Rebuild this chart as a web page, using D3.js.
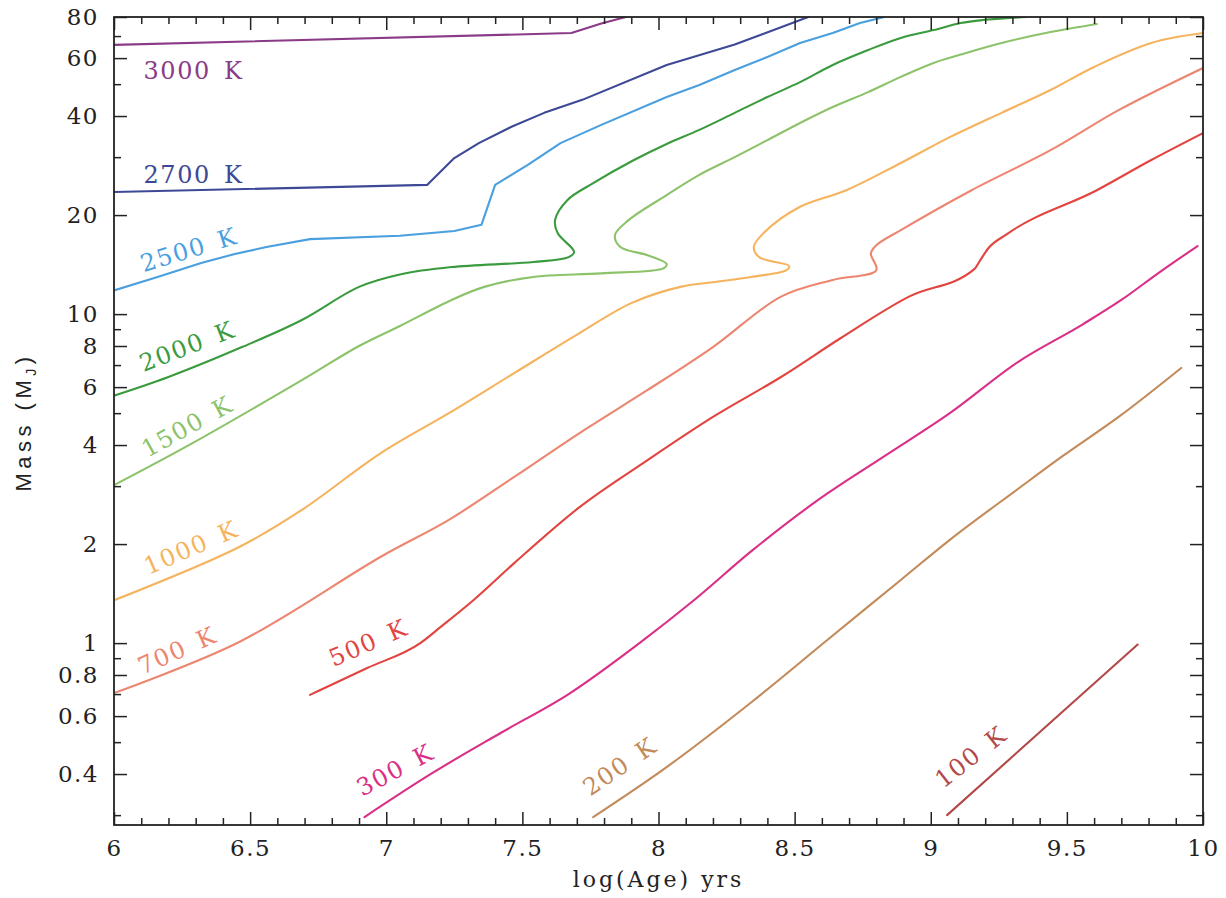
<!DOCTYPE html>
<html>
<head>
<meta charset="utf-8">
<script src="https://cdn.jsdelivr.net/npm/d3@7/dist/d3.min.js"></script>
<style>
  html, body { margin: 0; padding: 0; background: #fff; }
  svg { display: block; }
</style>
</head>
<body>
<svg id="chart" width="1226" height="898"></svg>
<script>
// ---------------- DATA (log age [yr], mass [M_J]) ----------------
const s3000 = [[6.0,65.8],[7.68,71.5],[7.79,76.5],[7.88,80]];
const s2700 = [[6.0,23.5],[7.15,24.7],[7.25,29.8],[7.34,33.1],[7.46,37.1],[7.58,40.9],[7.72,44.8],[8.03,57.2],[8.28,66.0],[8.45,74.5],[8.55,80]];
const s2500 = [[6.0,11.8],[6.16,12.97],[6.32,14.3],[6.44,15.2],[6.56,16.0],[6.72,16.9],[7.05,17.3],[7.25,17.9],[7.35,18.7],[7.40,24.7],[7.52,28.4],[7.64,33.1],[7.79,37.6],[8.03,45.7],[8.15,49.7],[8.28,55.2],[8.40,60.5],[8.52,66.7],[8.64,71.5],[8.74,76.7],[8.83,80]];
const s2000 = [[6.0,5.65],[6.2,6.44],[6.47,7.94],[6.69,9.6],[6.9,12.1],[7.05,13.2],[7.24,13.9],[7.54,14.4],[7.67,14.9],[7.69,15.45],[7.63,17.6],[7.62,19.3],[7.665,22.2],[7.76,25.0],[7.91,29.4],[8.03,32.9],[8.15,36.3],[8.28,40.9],[8.40,45.7],[8.52,50.7],[8.64,57.2],[8.77,63.5],[8.89,69.1],[9.01,73.0],[9.11,76.7],[9.19,78.3],[9.35,80]];
const s1500 = [[6.0,3.02],[6.29,4.06],[6.69,6.3],[6.9,8.0],[7.05,9.2],[7.24,11.04],[7.36,12.1],[7.54,12.97],[7.79,13.3],[8.02,13.8],[8.03,14.2],[7.96,15.1],[7.86,16.0],[7.84,17.4],[7.89,19.3],[8.03,23.0],[8.15,26.5],[8.28,30.0],[8.40,33.8],[8.52,38.1],[8.64,42.6],[8.77,47.3],[8.89,52.6],[9.01,58.0],[9.11,61.5],[9.26,66.7],[9.44,72.0],[9.61,76.2]];
const s1000 = [[6.0,1.35],[6.46,1.96],[6.69,2.54],[6.98,3.78],[7.23,5.0],[7.47,6.62],[7.71,8.76],[7.90,10.8],[8.08,12.1],[8.20,12.5],[8.34,12.97],[8.47,13.6],[8.48,14.0],[8.37,14.9],[8.35,16.0],[8.385,17.6],[8.52,21.2],[8.69,23.8],[8.89,28.8],[9.07,34.5],[9.26,40.9],[9.44,48.0],[9.60,56.4],[9.81,66.7],[10.0,71.5]];
const s700  = [[6.0,0.705],[6.46,1.008],[6.98,1.83],[7.23,2.37],[7.47,3.20],[7.71,4.35],[7.96,5.88],[8.20,7.94],[8.45,11.3],[8.64,12.7],[8.80,13.6],[8.78,15.3],[8.80,16.2],[8.89,18.0],[9.15,23.8],[9.44,31.5],[9.69,41.7],[10.0,56.0]];
const s500  = [[6.72,0.696],[6.93,0.84],[7.125,1.0],[7.2,1.12],[7.32,1.35],[7.47,1.75],[7.71,2.59],[7.96,3.60],[8.20,4.87],[8.45,6.44],[8.67,8.46],[8.92,11.3],[9.16,13.7],[9.18,14.5],[9.21,15.8],[9.28,17.5],[9.61,23.8],[9.81,29.4],[10.0,35.5]];
const s300  = [[6.92,0.296],[7.17,0.403],[7.42,0.533],[7.67,0.70],[7.93,1.0],[8.13,1.35],[8.34,1.90],[8.58,2.70],[8.83,3.70],[9.07,5.0],[9.32,7.15],[9.56,9.33],[9.70,11.04],[9.84,13.4],[9.98,16.1]];
const s200  = [[7.76,0.296],[8.03,0.42],[8.34,0.66],[8.62,1.022],[8.89,1.556],[9.07,2.06],[9.32,2.94],[9.48,3.68],[9.69,4.87],[9.92,6.86]];
const s100  = [[9.06,0.30],[9.76,0.99]];

const seriesNames = ["3000 K","2700 K","2500 K","2000 K","1500 K","1000 K","700 K","500 K","300 K","200 K","100 K"];
const seriesData  = [s3000, s2700, s2500, s2000, s1500, s1000, s700, s500, s300, s200, s100];

// label anchor (log age, mass) and rotation
const labelAge   = [6.108, 6.108, 6.108, 6.108, 6.123, 6.127, 6.105, 6.806, 6.912, 7.749, 9.046];
const labelMass  = [51.8, 25.0, 13.4, 6.67, 3.65, 1.61, 0.80, 0.846, 0.341, 0.341, 0.36];
const labelAngle = [0, 0, -17, -21, -29, -23.5, -24, -23.5, -28, -34.5, -38];

const ageMajor = [6, 6.5, 7, 7.5, 8, 8.5, 9, 9.5, 10];
const ageMajorLabels = ["6","6.5","7","7.5","8","8.5","9","9.5","10"];
const ageMinor = d3.range(60, 101).map(v => v / 10).filter(v => Math.round(v * 10) % 5 !== 0);
const massMajor = [80, 60, 40, 20, 10, 8, 6, 4, 2, 1, 0.8, 0.6, 0.4];
const massMajorLabels = ["80","60","40","20","10","8","6","4","2","1","0.8","0.6","0.4"];
const massMinor = [70, 50, 30, 9, 7, 5, 3, 0.9, 0.7, 0.5, 0.3];

// ---------------- STYLE ----------------
const colors = ["#8B3A87","#3D4896","#4A9FDF","#3A9B3E","#8CC36A","#F6B35E","#EC8670","#E2443F","#DA2F86","#C38A5A","#B34848"];
const curveKind = ["linear","linear","linear","cr","cr","cr","cr","mono","mono","mono","linear"];
const L = 114, R = 1203, T = 17, B = 825;
const serif = "'DejaVu Serif', serif";

const svg = d3.select("#chart");
const x = d3.scaleLinear().domain([6, 10]).range([L, R]);
const y = d3.scaleLog().domain([0.28, 80]).range([B, T]);

svg.append("defs").append("clipPath").attr("id", "clip")
  .append("rect").attr("x", L).attr("y", T).attr("width", R - L).attr("height", B - T);

const curves = { linear: d3.curveLinear, mono: d3.curveMonotoneX, cr: d3.curveCatmullRom.alpha(0.5) };

// curves
const plot = svg.append("g").attr("clip-path", "url(#clip)");
seriesData.forEach((data, i) => {
  const line = d3.line().x(d => x(d[0])).y(d => y(d[1])).curve(curves[curveKind[i]]);
  plot.append("path").datum(data)
    .attr("d", line)
    .attr("fill", "none")
    .attr("stroke", colors[i])
    .attr("stroke-width", 2.1)
    .attr("stroke-linejoin", "round")
    .attr("stroke-linecap", "round");
});

// labels
seriesNames.forEach((name, i) => {
  const px = x(labelAge[i]), py = y(labelMass[i]);
  svg.append("text")
    .attr("transform", `translate(${px},${py}) rotate(${labelAngle[i]})`)
    .attr("fill", colors[i])
    .attr("font-family", serif)
    .attr("font-size", 24)
    .attr("letter-spacing", "1.6px")
    .attr("word-spacing", "4px")
    .text(name);
});

// axes
function styleAxis(g) {
  g.select(".domain").remove();
  g.selectAll(".tick line").attr("stroke", "#222").attr("stroke-width", 1.5);
  g.selectAll(".tick text").attr("fill", "#222").attr("font-family", serif)
    .attr("font-size", 23).attr("letter-spacing", "1.5px");
}
// bottom
svg.append("g").attr("transform", `translate(0,${B})`)
  .call(d3.axisBottom(x).tickValues(ageMajor).tickSize(-13).tickPadding(15)
    .tickFormat((d, i) => ageMajorLabels[i]))
  .call(styleAxis);
svg.append("g").attr("transform", `translate(0,${B})`)
  .call(d3.axisBottom(x).tickValues(ageMinor).tickSize(-7).tickFormat(""))
  .call(styleAxis);
// top
svg.append("g").attr("transform", `translate(0,${T})`)
  .call(d3.axisTop(x).tickValues(ageMajor).tickSize(-13).tickFormat(""))
  .call(styleAxis);
svg.append("g").attr("transform", `translate(0,${T})`)
  .call(d3.axisTop(x).tickValues(ageMinor).tickSize(-7).tickFormat(""))
  .call(styleAxis);
// left
svg.append("g").attr("transform", `translate(${L},0)`)
  .call(d3.axisLeft(y).tickValues(massMajor).tickSize(-13).tickPadding(15)
    .tickFormat((d, i) => massMajorLabels[i]))
  .call(styleAxis);
svg.append("g").attr("transform", `translate(${L},0)`)
  .call(d3.axisLeft(y).tickValues(massMinor).tickSize(-7).tickFormat(""))
  .call(styleAxis);
// right
svg.append("g").attr("transform", `translate(${R},0)`)
  .call(d3.axisRight(y).tickValues(massMajor).tickSize(-13).tickFormat(""))
  .call(styleAxis);
svg.append("g").attr("transform", `translate(${R},0)`)
  .call(d3.axisRight(y).tickValues(massMinor).tickSize(-7).tickFormat(""))
  .call(styleAxis);

// frame
svg.append("rect").attr("x", L).attr("y", T).attr("width", R - L).attr("height", B - T)
  .attr("fill", "none").attr("stroke", "#222").attr("stroke-width", 1.8);

// axis titles
svg.append("text")
  .attr("x", (L + R) / 2).attr("y", 887)
  .attr("text-anchor", "middle")
  .attr("font-family", serif).attr("font-size", 22)
  .attr("letter-spacing", "3px")
  .attr("fill", "#222")
  .text("log(Age) yrs");

const yt = svg.append("text")
  .attr("transform", "translate(31,422) rotate(-90)")
  .attr("text-anchor", "middle")
  .attr("font-family", "'Liberation Sans', Arial, sans-serif")
  .attr("font-size", 22)
  .attr("letter-spacing", "4.5px")
  .attr("fill", "#222");
yt.append("tspan").text("Mass (M");
yt.append("tspan").attr("font-size", 14).attr("dy", 5).text("J");
yt.append("tspan").attr("dy", -5).text(")");
</script>
</body>
</html>
